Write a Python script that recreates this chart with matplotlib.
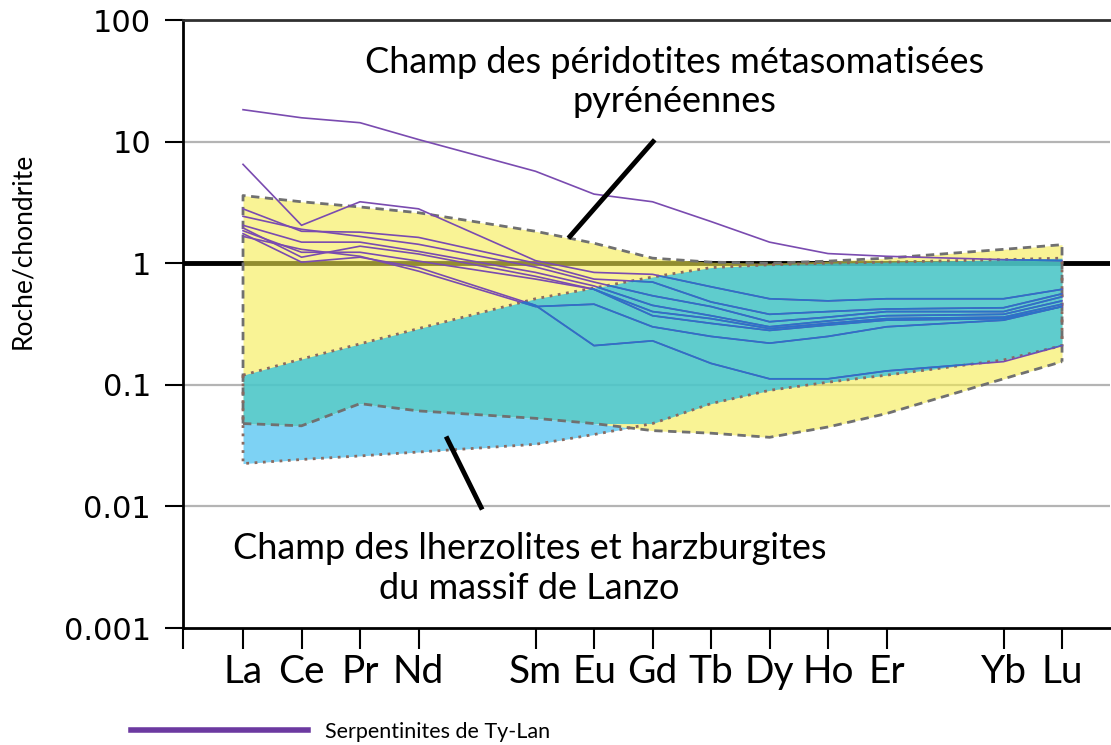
import numpy as np
import matplotlib
matplotlib.use("Agg")
import matplotlib.pyplot as plt
from matplotlib.patches import Polygon
from matplotlib.lines import Line2D

plt.rcParams['font.family'] = ['Lato', 'DejaVu Sans']

# REE, normalised to chondrite (Pm and Tm have no data)
elements = ['La', 'Ce', 'Pr', 'Nd', 'Sm', 'Eu', 'Gd', 'Tb', 'Dy', 'Ho', 'Er', 'Yb', 'Lu']
positions = [1, 2, 3, 4, 6, 7, 8, 9, 10, 11, 12, 14, 15]

# field of the metasomatised Pyrenean peridotites
pyr_top = [3.6, 3.2, 2.9, 2.6, 1.83, 1.46, 1.1, 1.02, 1.0, 1.04, 1.1, 1.3, 1.42]
pyr_bot = [0.048, 0.046, 0.07, 0.061, 0.053, 0.048, 0.042, 0.040, 0.037, 0.045, 0.058, 0.112, 0.155]

# field of the Lanzo lherzolites and harzburgites
lanzo_top = [0.12, 0.163, 0.217, 0.29, 0.51, 0.625, 0.77, 0.92, 0.97, 1.0, 1.02, 1.07, 1.1]
lanzo_bot = [0.0225, 0.0243, 0.026, 0.028, 0.0324, 0.039, 0.048, 0.07, 0.09, 0.105, 0.12, 0.16, 0.21]

# Ty-Lan serpentinites
serp = [
    [18.3, 15.7, 14.3, 10.4, 5.7, 3.7, 3.2, 2.2, 1.49, 1.2, 1.14, 1.07, 1.05],
    [6.5, 2.05, 3.2, 2.8, 1.05, 0.84, 0.81, 0.64, 0.51, 0.49, 0.51, 0.51, 0.61],
    [2.8, 1.83, 1.8, 1.63, 1.0, 0.74, 0.70, 0.48, 0.38, 0.40, 0.42, 0.43, 0.56],
    [2.43, 1.9, 1.66, 1.43, 0.93, 0.70, 0.54, 0.44, 0.33, 0.36, 0.40, 0.40, 0.53],
    [2.05, 1.49, 1.49, 1.25, 0.84, 0.65, 0.45, 0.37, 0.30, 0.335, 0.37, 0.38, 0.49],
    [1.95, 1.12, 1.38, 1.19, 0.78, 0.61, 0.40, 0.35, 0.29, 0.32, 0.35, 0.36, 0.46],
    [1.85, 1.23, 1.23, 1.04, 0.74, 0.61, 0.37, 0.32, 0.28, 0.31, 0.34, 0.35, 0.44],
    [1.66, 1.3, 1.14, 0.86, 0.44, 0.46, 0.30, 0.25, 0.22, 0.25, 0.30, 0.34, 0.44],
    [1.75, 1.02, 1.12, 0.92, 0.45, 0.21, 0.23, 0.15, 0.112, 0.112, 0.13, 0.155, 0.21],
]

x = np.array(positions, dtype=float)
lg = np.log10

fig = plt.figure(figsize=(11.11, 7.45), dpi=100)
ax = fig.add_axes([183/1111, 1-628/745, (1110-183)/1111, (628-20)/745])
ax.set_xlim(-0.026, 15.82)
ax.set_ylim(-3, 2)

# grid lines
for v in [-2, -1, 1]:
    ax.axhline(v, color='#b4b4b4', lw=1.6, zorder=1)
ax.axhline(0, color='black', lw=3.5, zorder=1)

# fields
pt, pb = lg(pyr_top), lg(pyr_bot)
lt, lb = lg(lanzo_top), lg(lanzo_bot)
ax.fill_between(x, pb, pt, color='#f5ec4f', alpha=0.6, lw=0, zorder=3)
lo = np.maximum(lb, pb)
hi = np.minimum(lt, pt)
ax.fill_between(x, lo, hi, where=hi > lo, interpolate=True,
                color='#2bbfe1', alpha=0.75, lw=0, zorder=4)
hi2 = np.minimum(lt, pb)
ax.fill_between(x, lb, hi2, where=hi2 > lb, interpolate=True,
                color='#51c3f1', alpha=0.75, lw=0, zorder=4)

# field outlines
ax.plot(np.r_[x[0], x, x[-1]], np.r_[pb[0], pt, pb[-1]], color='#707070',
        lw=2, ls=(0, (3, 2)), zorder=5)
ax.plot(x, pb, color='#707070', lw=2, ls=(0, (3, 2)), zorder=5)
ax.plot(np.r_[x[0], x, x[-1]], np.r_[lt[0], lb, lt[-1]], color='#8a6a60',
        lw=2, ls=(0, (1, 2)), zorder=5)
ax.plot(x, lt, color='#8a6a60', lw=2, ls=(0, (1, 2)), zorder=5)

# serpentinites: purple, turning blue inside the Lanzo field
purple = '#7a4bb0'
for s in serp:
    ax.plot(x, lg(s), color=purple, lw=1.2, zorder=6)
clip = Polygon(np.c_[np.r_[x, x[::-1]], np.r_[lb, lt[::-1]]], closed=True,
               transform=ax.transData, fill=False, visible=False)
ax.add_patch(clip)
for s in serp:
    ln, = ax.plot(x, lg(s), color='#2a73c8', lw=1.2, zorder=7)
    ln.set_clip_path(clip)

# pointers and field labels
ax.plot([6.59, 8.01], [0.221, 1.0], color='black', lw=3.5, zorder=8)
ax.plot([4.49, 5.07], [-1.443, -2.008], color='black', lw=3.5, zorder=8)
ax.text(8.38, 1.49, 'Champ des péridotites métasomatisées\npyrénéennes',
        ha='center', va='center', fontsize=26, linespacing=1.25)
ax.text(5.9, -2.51, 'Champ des lherzolites et harzburgites\ndu massif de Lanzo',
        ha='center', va='center', fontsize=26, linespacing=1.25)

# axes
ax.spines['right'].set_visible(False)
ax.spines['top'].set_color('#303030')
ax.spines['top'].set_linewidth(2)
ax.spines['left'].set_linewidth(2)
ax.spines['bottom'].set_linewidth(2)

ax.set_yticks(range(-3, 3))
ax.set_yticklabels(['0.001', '0.01', '0.1', '1', '10', '100'],
                   family=['DejaVu Sans'], fontsize=22)
ax.tick_params(axis='y', length=13, width=1.5, pad=10)
ax.set_xticks([ax.get_xlim()[0]] + positions)
ax.set_xticklabels([''] + elements, fontsize=28)
ax.tick_params(axis='x', length=15, width=1.5, pad=4)
ax.set_ylabel('Roche/chondrite', fontsize=19)
ax.yaxis.set_label_coords(-0.16, 0.62)

handle = Line2D([], [], color='#6c3aa0', lw=4)
fig.legend(handles=[handle], labels=['Serpentinites de Ty-Lan'],
           loc='center left', bbox_to_anchor=(112/1111, 1-732/745),
           frameon=False, fontsize=15.5, handlelength=8.2)

fig.savefig('out.png', dpi=100)
